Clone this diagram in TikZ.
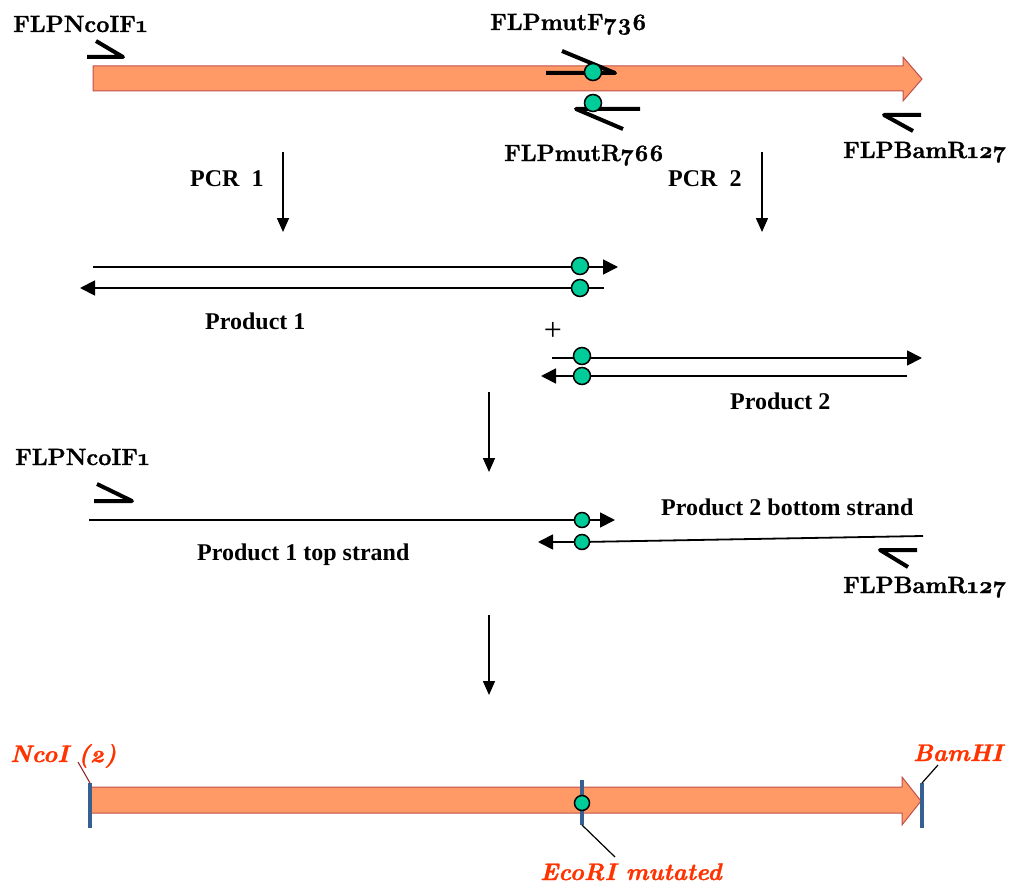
\documentclass[tikz,border=0pt]{standalone}
\usepackage{fontspec}
\setmainfont{Liberation Serif}
\newfontfamily\geo{Latin Modern Roman}[Numbers=OldStyle, BoldFeatures={FakeBold=1.3}, BoldItalicFeatures={FakeBold=1.3}]
\usetikzlibrary{arrows.meta}
\definecolor{orng}{HTML}{FF9966}
\definecolor{orngline}{HTML}{C0504D}
\definecolor{grn}{HTML}{00CC99}
\definecolor{redtxt}{HTML}{FF3300}
\definecolor{barblue}{HTML}{376092}
\definecolor{leadred}{HTML}{8B1A1A}
\begin{document}
\begin{tikzpicture}[x=1pt,y=-1pt,
  lbl/.style={inner sep=0pt, anchor=base west, font=\fontsize{24}{28}\selectfont\bfseries},
  glbl/.style={inner sep=0pt, anchor=base west, font=\fontsize{23.5}{28}\selectfont\geo\bfseries},
  rlbl/.style={inner sep=0pt, anchor=base west, text=redtxt, font=\fontsize{24}{28}\selectfont\geo\bfseries\itshape},
  primer/.style={line width=4pt, line join=round},
  strand/.style={line width=1.8pt, -{Triangle[length=15pt,width=15pt]}},
  steparrow/.style={line width=1.5pt, -{Triangle[length=14pt,width=12pt]}},
  mutdot/.style={circle, draw=black, fill=grn, line width=1.5pt, inner sep=0pt, minimum size=17pt},
  smalldot/.style={circle, draw=black, fill=grn, line width=1.5pt, inner sep=0pt, minimum size=15pt},
  gene/.style={fill=orng, draw=orngline, line width=1pt},
  sitebar/.style={draw=barblue, line width=4pt},
  leader/.style={line width=1.2pt}
]
\path[use as bounding box] (0,0) rectangle (1015,888);

% ---------- top gene with primers ----------
\path[gene] (93,66) -- (903,66) -- (903,57) -- (922,79) -- (903,101) -- (903,91) -- (93,91) -- cycle;
\node[glbl] (fwdlbl) at (13,32) {FLPNcoIF1};
\draw[primer] (96,41) -- (123,57) -- (87,57);
\node[glbl] (mutFlbl) at (490,30) {FLPmutF736};
\draw[primer] (562,51) -- (615,73) -- (546,73);
\node[mutdot] (mutFdot) at (593,72) {};
\draw[primer] (640,109) -- (576,109) -- (623,129);
\node[mutdot] (mutRdot) at (593,103) {};
\node[glbl] (mutRlbl) at (504,161) {FLPmutR766};
\draw[primer] (921,115) -- (884,115) -- (913,131);
\node[glbl] (revlbl) at (843,158) {FLPBamR127};

% ---------- PCR steps ----------
\coordinate (pcr1a) at (283,152); \coordinate (pcr1b) at (283,232);
\coordinate (pcr2a) at (762,152); \coordinate (pcr2b) at (762,232);
\draw[steparrow] (pcr1a) -- (pcr1b);
\draw[steparrow] (pcr2a) -- (pcr2b);
\node[lbl] (pcr1lbl) at (190,186) {PCR\ \ 1};
\node[lbl] (pcr2lbl) at (668,186) {PCR\ \ 2};

% ---------- Product 1 ----------
\coordinate (p1ta) at (93,267); \coordinate (p1tb) at (618,267);
\coordinate (p1ba) at (604,288); \coordinate (p1bb) at (80,288);
\draw[strand] (p1ta) -- (p1tb);
\draw[strand] (p1ba) -- (p1bb);
\node[mutdot] (p1tdot) at (580,266) {};
\node[mutdot] (p1bdot) at (580,288) {};
\node[lbl] (p1lbl) at (205,329) {Product 1};
\node[inner sep=0pt, font=\fontsize{32}{36}\selectfont] (plus) at (553,331) {+};

% ---------- Product 2 ----------
\coordinate (p2ta) at (552,358); \coordinate (p2tb) at (922,358);
\coordinate (p2ba) at (907,376); \coordinate (p2bb) at (541,376);
\draw[strand] (p2ta) -- (p2tb);
\draw[strand] (p2ba) -- (p2bb);
\node[mutdot] (p2tdot) at (582,356) {};
\node[mutdot] (p2bdot) at (582,376) {};
\node[lbl] (p2lbl) at (730,409) {Product 2};

% ---------- step 3 ----------
\coordinate (s3a) at (489,392); \coordinate (s3b) at (489,472);
\draw[steparrow] (s3a) -- (s3b);
\node[glbl] (fwdlbl2) at (15,465) {FLPNcoIF1};
\draw[primer] (97,484) -- (132,501) -- (94,501);
\coordinate (tsa) at (89,520); \coordinate (tsb) at (615,520);
\draw[strand] (tsa) -- (tsb);
\node[smalldot] (tsdot) at (582,520) {};
\node[lbl] (tslbl) at (197,560) {Product 1 top strand};
\node[lbl] (bslbl) at (661,515) {Product 2 bottom strand};
\coordinate (bsa) at (923,536); \coordinate (bsk) at (582,542); \coordinate (bsb) at (538,542);
\draw[strand] (bsa) -- (bsk) -- (bsb);
\node[smalldot] (bsdot) at (582,542) {};
\draw[primer] (917,550) -- (880,550) -- (908,567);
\node[glbl] (revlbl2) at (843,593) {FLPBamR127};

% ---------- step 4 ----------
\coordinate (s4a) at (489,615); \coordinate (s4b) at (489,695);
\draw[steparrow] (s4a) -- (s4b);

% ---------- final product ----------
\path[gene] (90,787) -- (902,787) -- (902,777) -- (921,801) -- (902,825) -- (902,813) -- (90,813) -- cycle;
\coordinate (ncoT) at (90,783); \coordinate (ncoB) at (90,828);
\coordinate (ecoT) at (582,780); \coordinate (ecoB) at (582,825);
\coordinate (bamT) at (922,783); \coordinate (bamB) at (922,828);
\draw[sitebar] (ncoT) -- (ncoB);
\draw[sitebar] (ecoT) -- (ecoB);
\draw[sitebar] (bamT) -- (bamB);
\node[smalldot] (ecodot) at (582,803) {};
\node[rlbl] (ncolbl) at (10,762) {NcoI (2)};
\node[rlbl] (bamlbl) at (913,761) {BamHI};
\node[rlbl] (ecolbl) at (540,880) {EcoRI mutated};
\coordinate (ncoL) at (78,762);
\coordinate (bamL) at (938,765);
\coordinate (ecoL) at (615,857);
\draw[leader, draw=leadred, line width=1pt] (ncoL) -- (ncoT);
\draw[leader] (bamL) -- (bamT);
\draw[leader] (ecoB) -- (ecoL);
\end{tikzpicture}
\end{document}
